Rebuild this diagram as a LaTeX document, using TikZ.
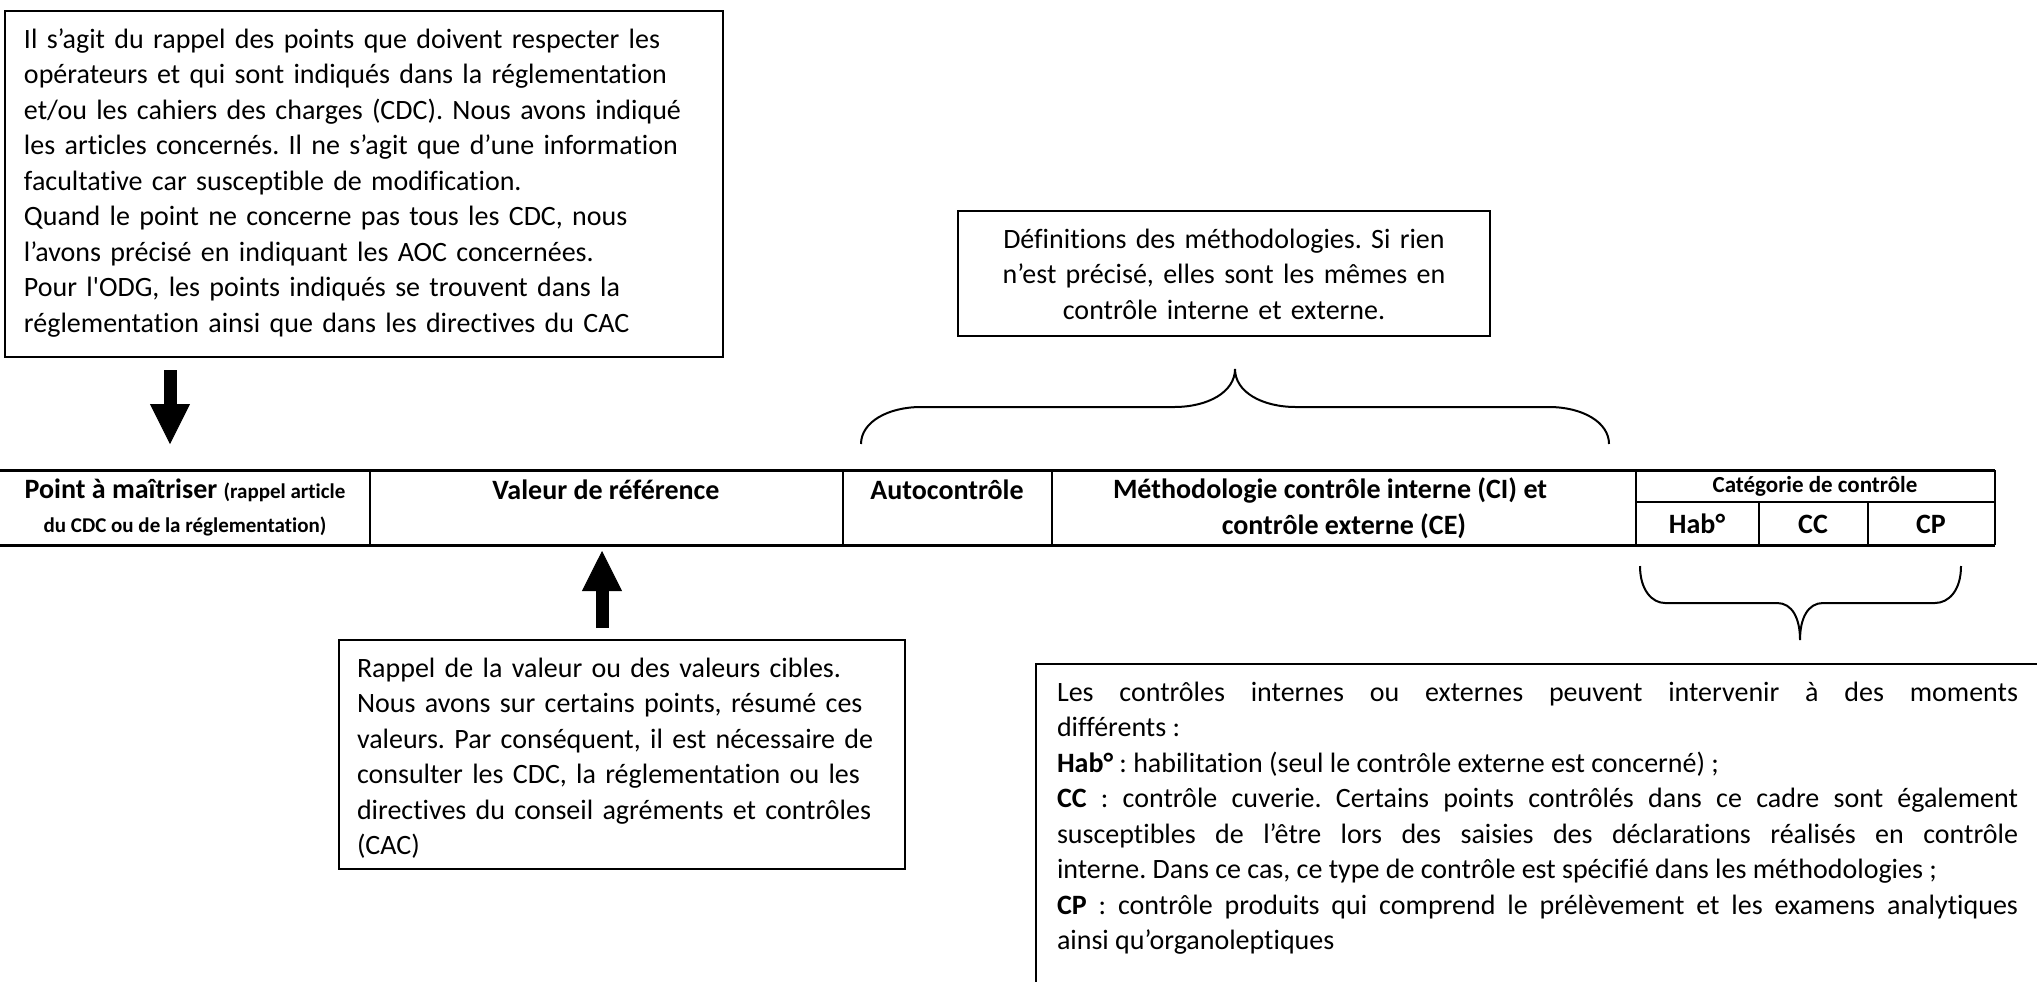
\documentclass[tikz,border=0pt]{standalone}
\usepackage{fontspec}
\setmainfont{Carlito}[Ligatures=NoCommon]
\usetikzlibrary{arrows.meta}
\hyphenpenalty=10000
\exhyphenpenalty=10000

\begin{document}
\frenchspacing
\begin{tikzpicture}[x=0.5pt,y=-0.5pt,
  box/.style={draw,line width=1pt,inner xsep=9.5pt,inner ysep=5pt,text height=13.5pt,
    font=\fontsize{14}{17.75}\selectfont},
  head/.style={font=\fontsize{14}{17}\selectfont\bfseries,inner sep=0pt},
  small/.style={font=\fontsize{10.5}{12}\selectfont\bfseries,inner sep=0pt},
  bigarrow/.style={line width=6.5pt,-{Triangle[width=20pt,length=20pt,line width=0.4pt]}},
  brace/.style={line width=1pt}]
\useasboundingbox (0,0) rectangle (2037,981);
\clip (0,0) rectangle (2037,981);
\fill[white] (0,0) rectangle (2037,981);

% boxes with the explanations
\node[box,anchor=north west,text width=340pt,text depth=149.5pt,align=left] (rappelpts) at (4,10)
  {Il s’agit du rappel des points que doivent respecter les\\
   opérateurs et qui sont indiqués dans la réglementation\\
   et/ou les cahiers des charges (CDC). Nous avons indiqué\\
   les articles concernés. Il ne s’agit que d’une information\\
   facultative car susceptible de modification.\\
   Quand le point ne concerne pas tous les CDC, nous\\
   l’avons précisé en indiquant les AOC concernées.\\
   Pour l\textquotesingle ODG, les points indiqués se trouvent dans la\\
   réglementation ainsi que dans les directives du CAC};
\node[box,anchor=north west,text width=247pt,text depth=39pt,align=center] (defmeth) at (957,210)
  {Définitions des méthodologies. Si rien\\
   n’est précisé, elles sont les mêmes en\\
   contrôle interne et externe.};
\node[box,anchor=north west,inner xsep=9pt,text width=265pt,text depth=91pt,align=left] (rappelval) at (338,639)
  {Rappel de la valeur ou des valeurs cibles.\\
   Nous avons sur certains points, résumé ces\\
   valeurs. Par conséquent, il est nécessaire de\\
   consulter les CDC, la réglementation ou les\\
   directives du conseil agréments et contrôles\\
   (CAC)};
\node[box,anchor=north west,inner xsep=10.5pt,text width=480.5pt,text depth=146.5pt,align=justify] (catdef) at (1035,663)
  {Les contrôles internes ou externes peuvent intervenir à des moments\linebreak
   différents :\newline
   \textbf{Hab°} : habilitation (seul le contrôle externe est concerné) ;\newline
   \textbf{CC} : contrôle cuverie. Certains points contrôlés dans ce cadre sont également\linebreak
   susceptibles de l’être lors des saisies des déclarations réalisés en contrôle\linebreak
   interne. Dans ce cas, ce type de contrôle est spécifié dans les méthodologies~;\newline
   \textbf{CP} : contrôle produits qui comprend le prélèvement et les examens analytiques\linebreak
   ainsi qu’organoleptiques};

% table head
\draw[line width=0.75pt] (370,470) -- (370,545);
\draw[line width=0.75pt] (843,470) -- (843,545);
\draw[line width=0.75pt] (1052,470) -- (1052,545);
\draw[line width=0.75pt] (1636,470) -- (1636,545);
\draw[line width=0.75pt] (1995,470) -- (1995,545);
\draw[line width=0.75pt] (1636,502) -- (1995,502);
\draw[line width=0.75pt] (1759,502) -- (1759,545);
\draw[line width=0.75pt] (1868,502) -- (1868,545);
\draw[line width=1.5pt] (0,470) -- (1995,470);
\draw[line width=1.5pt] (0,545) -- (1995,545);
\node[head] (ptmait) at (185,490) {Point à maîtriser {\fontsize{10.5}{12}\selectfont(rappel article}};
\node[small] (ptmaitb) at (185,526) {du CDC ou de la réglementation)};
\node[head] (valref) at (606,490) {Valeur de référence};
\node[head] (autoctl) at (947,490) {Autocontrôle};
\node[head] (methodo) at (1344,490) {Méthodologie contrôle interne (CI) et\hspace*{1em}};
\node[head] (methodob) at (1344,526) {contrôle externe (CE)};
\node[small,font=\fontsize{11.5}{13}\selectfont\bfseries] (catctl) at (1815,486) {Catégorie de contrôle};
\node[head] (hab) at (1697,524) {Hab°};
\node[head] (cc) at (1813,524) {CC};
\node[head] (cp) at (1931,524) {CP};

% arrows
\coordinate (dnA) at (170,370);
\coordinate (dnB) at (170,444);
\draw[bigarrow] (dnA) -- (dnB);
\coordinate (upA) at (602,628);
\coordinate (upB) at (602,551);
\draw[bigarrow] (upA) -- (upB);

% braces
\draw[brace] (861,444) .. controls (861,422) and (888,407) .. (921,407) -- (1174,407)
  .. controls (1208,407) and (1235,392) .. (1235,369)
  .. controls (1235,392) and (1262,407) .. (1296,407) -- (1549,407)
  .. controls (1582,407) and (1609,422) .. (1609,444);
\draw[brace] (1640,566) .. controls (1640,590) and (1652,603) .. (1665,603) -- (1777,603)
  .. controls (1792,603) and (1800,618) .. (1800,640)
  .. controls (1800,618) and (1808,603) .. (1823,603) -- (1935,603)
  .. controls (1949,603) and (1961,590) .. (1961,566);
\end{tikzpicture}
\end{document}
